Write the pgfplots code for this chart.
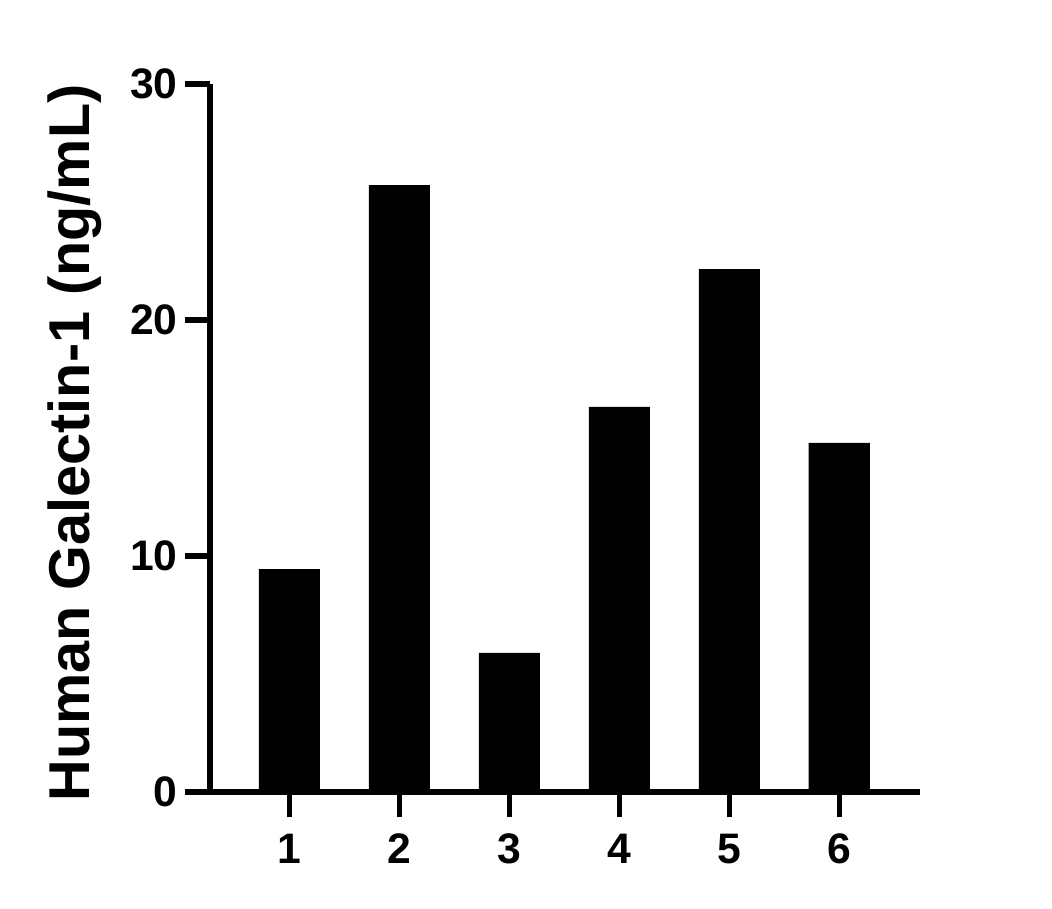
\documentclass[border=0pt]{standalone}
\usepackage{pgfplots}
\pgfplotsset{compat=1.18}
\usepackage{fontspec}
\setmainfont{Liberation Sans}
\begin{document}
\begin{tikzpicture}
\begin{axis}[
  at={(0,0)}, anchor=south west,
  scale only axis,
  width=532.5pt, height=531pt,
  xmin=0.279, xmax=6.734,
  ymin=0, ymax=30,
  axis lines*=left,
  axis line style={line width=4pt, line cap=butt},
  every tick/.style={line width=4pt, black, line cap=butt},
  tick align=outside,
  major tick length=18.75pt,
  xtick={1,2,3,4,5,6},
  ytick={0,10,20,30},
  /pgf/number format/assume math mode=true,
  ticklabel style={font=\bfseries\fontsize{32}{32}\selectfont},
  xticklabel style={yshift=-9pt},
  yticklabel style={xshift=-2pt},
  ylabel={Human Galectin-1 (ng/mL)},
  ylabel style={font=\bfseries\fontsize{43.2}{43.2}\selectfont, at={(axis description cs:-0.19,0.493)}, anchor=center},
  clip=false,
]
\addplot[ybar, bar width=0.555, fill=black, draw=none] coordinates {
(1,9.44) (2,25.72) (3,5.89) (4,16.32) (5,22.16) (6,14.79)
};
\end{axis}
\path (-157.5pt,-87.75pt) rectangle (631.5pt,594pt);
\end{tikzpicture}
\end{document}
